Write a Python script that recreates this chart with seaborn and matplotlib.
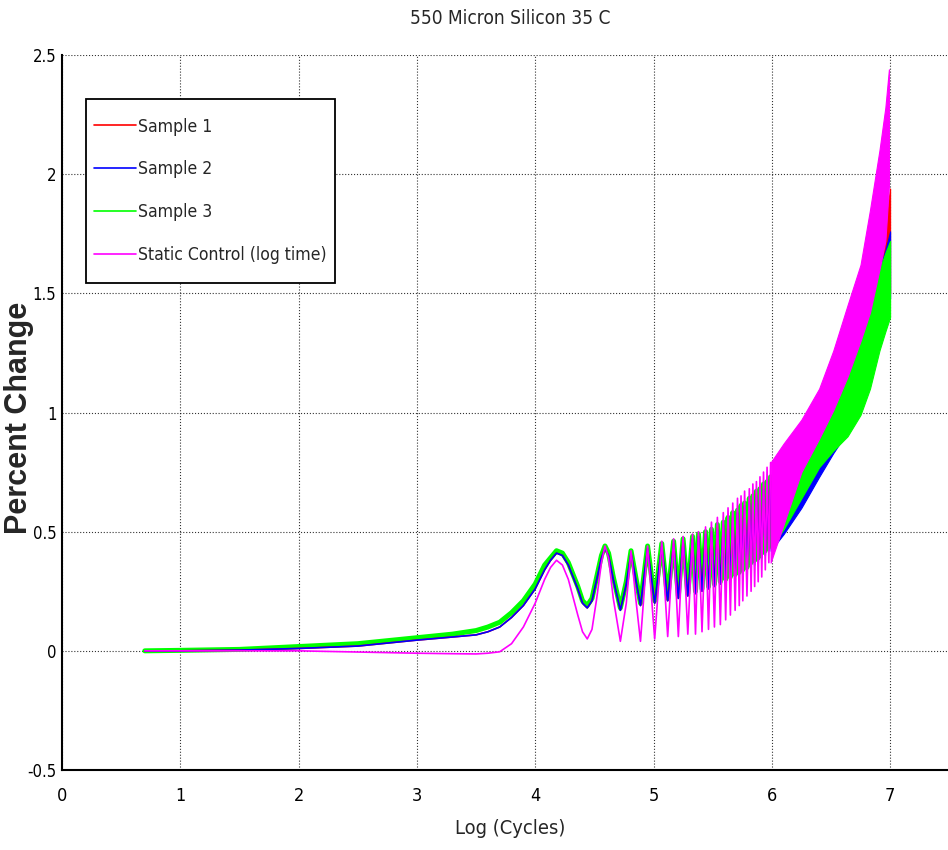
import numpy as np
import pandas as pd
import matplotlib
matplotlib.use("Agg")
import matplotlib.pyplot as plt
import seaborn as sns
from matplotlib import font_manager
from matplotlib.font_manager import FontProperties
from matplotlib.lines import Line2D
from matplotlib.path import Path

# ---------------- data ----------------
title = "550 Micron Silicon 35 C"
x_label = "Log (Cycles)"
y_label = "Percent Change"
series_names = ["Sample 1", "Sample 2", "Sample 3", "Static Control (log time)"]
series_colors = ["#ff0000", "#0000ff", "#00ff00", "#ff00ff"]
x_ticks = [0, 1, 2, 3, 4, 5, 6, 7]
y_ticks = [-0.5, 0, 0.5, 1, 1.5, 2, 2.5]
y_tick_labels = ["-0.5", "0", "0.5", "1", "1.5", "2", "2.5"]

# smooth early part
x_early = [0.7, 1.0, 1.5, 2.0, 2.5, 3.0, 3.3, 3.5, 3.6, 3.7, 3.8, 3.9, 4.0, 4.08, 4.13, 4.18]
s1_early = [0.0, 0.0, 0.003, 0.01, 0.02, 0.045, 0.058, 0.067, 0.08, 0.10, 0.14, 0.19, 0.26, 0.34, 0.38, 0.41]
s2_early = [0.0, 0.0, 0.003, 0.01, 0.02, 0.045, 0.058, 0.067, 0.08, 0.10, 0.14, 0.19, 0.26, 0.34, 0.38, 0.41]
s3_early = [0.0, 0.002, 0.006, 0.018, 0.03, 0.055, 0.07, 0.085, 0.10, 0.12, 0.16, 0.21, 0.28, 0.36, 0.39, 0.42]
ctrl_early = [0.0, 0.0, 0.0, 0.0, -0.005, -0.01, -0.012, -0.013, -0.01, -0.004, 0.03, 0.10, 0.20, 0.30, 0.35, 0.38]

# oscillating part (peaks and troughs)
x_osc = [4.23, 4.28, 4.36, 4.40, 4.44, 4.48, 4.52, 4.56, 4.59, 4.62, 4.66, 4.72, 4.77, 4.81,
         4.85, 4.89, 4.95, 5.01,
         5.07, 5.12, 5.17, 5.21, 5.25, 5.29, 5.33, 5.355, 5.38, 5.41, 5.44, 5.465, 5.49,
         5.515, 5.54, 5.565, 5.59, 5.61, 5.63, 5.65, 5.67, 5.69, 5.71, 5.725, 5.74,
         5.755, 5.77, 5.79, 5.81, 5.825, 5.84, 5.855, 5.87, 5.885, 5.90, 5.915, 5.93,
         5.945, 5.96, 5.975, 5.99]
ctrl_osc = [0.36, 0.30, 0.15, 0.08, 0.05, 0.09, 0.22, 0.37, 0.44, 0.39, 0.22, 0.04, 0.20, 0.42,
            0.22, 0.04, 0.44, 0.05,
            0.46, 0.06, 0.47, 0.06, 0.48, 0.07, 0.49, 0.07, 0.50, 0.08, 0.52, 0.09, 0.54,
            0.10, 0.56, 0.11, 0.58, 0.13, 0.60, 0.15, 0.62, 0.17, 0.64, 0.19, 0.65,
            0.21, 0.67, 0.23, 0.68, 0.25, 0.70, 0.27, 0.71, 0.29, 0.73, 0.31, 0.75,
            0.34, 0.77, 0.37, 0.79]
s1_osc = [0.40, 0.36, 0.26, 0.20, 0.18, 0.21, 0.30, 0.39, 0.43, 0.40, 0.30, 0.17, 0.28, 0.41,
          0.30, 0.19, 0.43, 0.20,
          0.44, 0.21, 0.45, 0.22, 0.46, 0.23, 0.47, 0.24, 0.48, 0.25, 0.49, 0.26, 0.50,
          0.27, 0.52, 0.28, 0.53, 0.29, 0.55, 0.30, 0.57, 0.31, 0.58, 0.32, 0.60,
          0.33, 0.61, 0.34, 0.63, 0.36, 0.64, 0.37, 0.66, 0.38, 0.67, 0.40, 0.69,
          0.41, 0.70, 0.43, 0.72]
s2_osc = [0.40, 0.36, 0.26, 0.20, 0.18, 0.21, 0.30, 0.39, 0.43, 0.40, 0.30, 0.17, 0.28, 0.41,
          0.30, 0.19, 0.43, 0.20,
          0.44, 0.21, 0.45, 0.22, 0.46, 0.23, 0.47, 0.24, 0.48, 0.25, 0.49, 0.26, 0.50,
          0.27, 0.51, 0.28, 0.53, 0.29, 0.54, 0.30, 0.56, 0.31, 0.58, 0.32, 0.59,
          0.33, 0.61, 0.34, 0.62, 0.35, 0.64, 0.36, 0.65, 0.37, 0.67, 0.39, 0.68,
          0.40, 0.70, 0.42, 0.71]
s3_osc = [0.41, 0.37, 0.27, 0.21, 0.19, 0.22, 0.31, 0.40, 0.44, 0.41, 0.31, 0.18, 0.29, 0.42,
          0.31, 0.20, 0.44, 0.21,
          0.45, 0.22, 0.46, 0.23, 0.47, 0.24, 0.48, 0.25, 0.49, 0.26, 0.50, 0.27, 0.51,
          0.28, 0.53, 0.29, 0.54, 0.30, 0.56, 0.31, 0.58, 0.32, 0.59, 0.33, 0.61,
          0.34, 0.62, 0.35, 0.64, 0.37, 0.65, 0.38, 0.67, 0.39, 0.68, 0.41, 0.70,
          0.42, 0.71, 0.44, 0.73]

# dense part drawn as bands (lower / upper envelope)
x_ctrl_band = [5.99, 6.1, 6.25, 6.4, 6.52, 6.64, 6.75, 6.83, 6.91, 6.96, 6.99]
ctrl_lo = [0.37, 0.53, 0.75, 0.89, 1.01, 1.15, 1.30, 1.42, 1.60, 1.72, 1.95]
ctrl_hi = [0.79, 0.87, 0.97, 1.10, 1.26, 1.45, 1.62, 1.85, 2.10, 2.28, 2.44]
x_samp_band = [5.99, 6.1, 6.25, 6.4, 6.52, 6.64, 6.75, 6.83, 6.91, 6.96, 7.0]
s1_lo = [0.43, 0.51, 0.63, 0.76, 0.86, 0.95, 1.05, 1.16, 1.32, 1.42, 1.50]
s1_hi = [0.71, 0.79, 0.89, 1.01, 1.12, 1.27, 1.42, 1.54, 1.68, 1.80, 1.94]
s2_lo = [0.42, 0.49, 0.60, 0.73, 0.83, 0.92, 1.02, 1.14, 1.30, 1.40, 1.48]
s2_hi = [0.71, 0.78, 0.88, 1.00, 1.10, 1.24, 1.38, 1.48, 1.60, 1.68, 1.76]
s3_lo = [0.43, 0.51, 0.64, 0.77, 0.84, 0.90, 0.99, 1.10, 1.26, 1.34, 1.40]
s3_hi = [0.72, 0.80, 0.90, 1.02, 1.12, 1.26, 1.40, 1.50, 1.60, 1.67, 1.72]

# ---------------- styling ----------------
sns.set_style("white")

# look for a narrow / condensed sans face; fall back to Liberation Sans
narrow_path = None
for f in font_manager.fontManager.ttflist:
    nm = f.name.lower()
    if ("narrow" in nm or "condensed" in nm or str(f.stretch) in ("condensed", "semi-condensed")) \
            and f.style == "normal" and f.weight in (400, "normal", "regular") and "mono" not in nm \
            and "serif" not in nm.replace("sans", ""):
        narrow_path = f.fname
        break
if narrow_path:
    base_fp = FontProperties(fname=narrow_path)
    k = 1.0
else:
    base_fp = FontProperties(family="Liberation Sans")
    k = 0.93
plt.rcParams["font.family"] = ["Liberation Sans", "DejaVu Sans"]


def fp(size):
    p = base_fp.copy()
    p.set_size(size * k)
    return p


W, H = 948, 850
fig = plt.figure(figsize=(W / 100, H / 100), dpi=100)
ax_left, ax_right, ax_top, ax_bot = 62, 948, 55, 770
ax = fig.add_axes([ax_left / W, 1 - ax_bot / H, (ax_right - ax_left) / W, (ax_bot - ax_top) / H])

lines_data = [
    (x_early + x_osc, s3_early + s3_osc, series_colors[2], 3.6, 2.0),
    (x_early + x_osc, s1_early + s1_osc, series_colors[0], 1.2, 3.0),
    (x_early + x_osc, s2_early + s2_osc, series_colors[1], 1.2, 3.5),
    (x_early + x_osc, ctrl_early + ctrl_osc, series_colors[3], 1.2, 5.0),
]
for xs, ys, col, lw, z in lines_data:
    df = pd.DataFrame({"x": xs, "y": ys})
    sns.lineplot(data=df, x="x", y="y", ax=ax, color=col, linewidth=lw,
                 estimator=None, sort=False, zorder=z)

bands = [
    (x_samp_band, s1_lo, s1_hi, series_colors[0], 2.1),
    (x_samp_band, s2_lo, s2_hi, series_colors[1], 2.2),
    (x_samp_band, s3_lo, s3_hi, series_colors[2], 2.3),
    (x_ctrl_band, ctrl_lo, ctrl_hi, series_colors[3], 4.9),
]
for xs, lo, hi, col, z in bands:
    ax.fill_between(xs, lo, hi, color=col, linewidth=0.8, edgecolor=col, zorder=z)

ax.set_xlim(0, (ax_right - ax_left) / 118.3)
ax.set_ylim(-0.5, 2.5)
ax.set_xticks(x_ticks)
ax.set_xticklabels([str(t) for t in x_ticks])
ax.set_yticks(y_ticks)
ax.set_yticklabels(y_tick_labels)
for lbl in ax.get_xticklabels():
    lbl.set_fontproperties(fp(13))
for lbl in ax.get_yticklabels():
    lbl.set_fontproperties(fp(12))
ax.tick_params(axis="both", direction="in", length=6, width=1.0, colors="black")
ax.tick_params(axis="x", pad=12)
ax.tick_params(axis="y", pad=4)
ax.grid(True, color="black", linestyle=":", linewidth=0.8, alpha=0.8)
for s in ["top", "right"]:
    ax.spines[s].set_visible(False)
for s in ["left", "bottom"]:
    ax.spines[s].set_color("black")
    ax.spines[s].set_linewidth(1.5)
ax.set_xlabel("")
ax.set_ylabel("")

fig.text(510 / W, 1 - 18 / H, title, ha="center", va="center", fontproperties=fp(13.7))
fig.text(510 / W, 1 - 828 / H, x_label, ha="center", va="center", fontproperties=fp(14.4))
fig.text(19 / W, 1 - 418 / H, y_label, ha="center", va="center", rotation=90,
         fontsize=22, fontweight="bold", family=["Liberation Sans", "DejaVu Sans"])

# legend: frame taller than its content (MATLAB style), extra vertical pad in px
extra_dy = 11.0


def tall_box(x0, y0, width, height, mutation_size):
    return Path([(x0, y0 - extra_dy), (x0 + width, y0 - extra_dy),
                 (x0 + width, y0 + height + extra_dy), (x0, y0 + height + extra_dy),
                 (x0, y0 - extra_dy)], closed=True)


handles = [Line2D([0], [0], color=c, linewidth=1.2) for c in series_colors]
leg = ax.legend(handles, series_names, loc="upper left",
                bbox_to_anchor=(86 / W, 1 - (99 + extra_dy) / H), bbox_transform=fig.transFigure,
                borderaxespad=0, prop=fp(12.6), frameon=True, fancybox=False,
                framealpha=1, edgecolor="black", handlelength=2.4, handletextpad=0.17,
                labelspacing=1.42, borderpad=0.43)
leg.get_frame().set_boxstyle(tall_box)
leg.get_frame().set_linewidth(1.3)
leg.set_zorder(10)

fig.savefig("out.png", dpi=100)
